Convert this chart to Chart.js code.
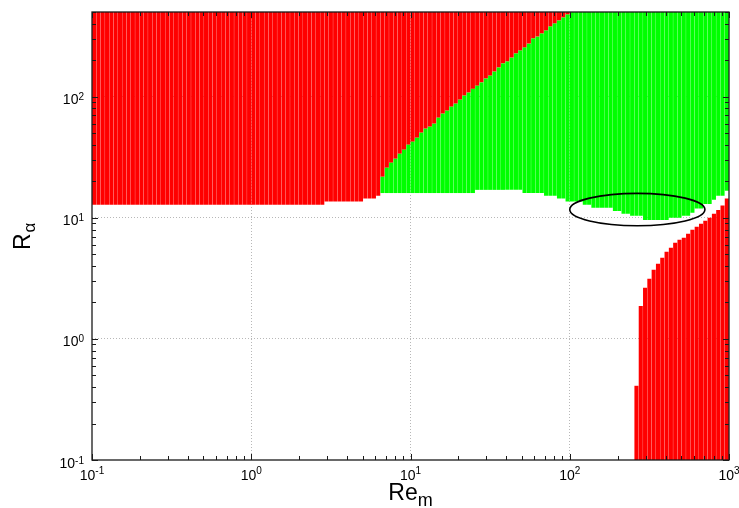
<!DOCTYPE html>
<html>
<head>
<meta charset="utf-8">
<script src="https://cdn.jsdelivr.net/npm/chart.js@4.4.1/dist/chart.umd.min.js"></script>
<style>
  html, body { margin: 0; padding: 0; background: #fff; }
  canvas { display: block; }
</style>
</head>
<body>
<canvas id="stability" width="739" height="508"></canvas>
<script>
// Re_m at the centre of each computed column (37 columns per decade)
const reM = [
  0.1032,0.1098,0.1168,0.1243,0.1323,0.1408,0.1499,0.1595,0.1697,0.1806,0.1922,0.2046,0.2177,0.2317,0.2466,0.2624,0.2792,0.2972,0.3162,
  0.3365,0.3581,0.3811,0.4056,0.4316,0.4594,0.4889,0.5202,0.5536,0.5892,0.6270,0.6673,0.7101,0.7557,0.8042,0.8558,0.9108,0.9694,
  1.032,1.098,1.168,1.243,1.323,1.408,1.499,1.595,1.697,1.806,1.922,2.046,2.177,2.317,2.466,2.624,2.792,2.972,3.162,
  3.365,3.581,3.811,4.056,4.316,4.594,4.889,5.202,5.536,5.892,6.270,6.673,7.101,7.557,8.042,8.558,9.108,9.694,
  10.32,10.98,11.68,12.43,13.23,14.08,14.99,15.95,16.97,18.06,19.22,20.46,21.77,23.17,24.66,26.24,27.92,29.72,31.62,
  33.65,35.81,38.11,40.56,43.16,45.94,48.89,52.02,55.36,58.92,62.70,66.73,71.01,75.57,80.42,85.58,91.08,96.94,
  103.2,109.8,116.8,124.3,132.3,140.8,149.9,159.5,169.7,180.6,192.2,204.6,217.7,231.7,246.6,262.4,279.2,297.2,316.2,
  336.5,358.1,381.1,405.6,431.6,459.4,488.9,520.2,553.6,589.2,627.0,667.3,710.1,755.7,804.2,855.8,910.8,969.4
];

// lower edge of the upper (red / green) region, R_alpha
const whiteEdge = [
  12.8,12.8,12.8,12.8,12.8,12.8,12.8,12.8,12.8,12.8,12.8,12.8,12.8,12.8,12.8,12.8,12.8,12.8,12.8,
  12.8,12.8,12.8,12.8,12.8,12.8,12.8,12.8,12.8,12.8,12.8,12.8,12.8,12.8,12.8,12.8,12.8,12.8,
  12.8,12.8,12.8,12.8,12.8,12.8,12.8,12.8,12.8,12.8,12.8,12.8,12.8,12.8,12.8,12.8,12.8,
  13.6,13.6,13.6,13.6,13.6,13.6,13.6,13.6,13.6,14.4,14.4,14.4,15.2,16.0,16.0,16.0,16.0,16.0,16.0,16.0,
  16.0,16.0,16.0,16.0,16.0,16.0,16.0,16.0,16.0,16.0,16.0,16.0,16.0,16.0,16.0,
  17.0,17.0,17.0,17.0,17.0,17.0,17.0,17.0,17.0,17.0,17.0,16.0,16.0,16.0,16.0,16.0,15.2,15.2,15.2,14.4,14.4,13.6,
  13.6,13.6,13.6,12.8,12.8,12.1,12.1,12.1,12.1,12.1,11.4,11.4,10.8,10.8,10.4,10.4,10.4,
  9.6,9.6,9.6,9.6,9.6,9.6,10.0,10.0,10.0,10.4,10.4,11.0,11.9,11.9,13.0,13.0,14.1,15.2,15.2,16.7
];

// red / green boundary (null: no green, 500: green reaches the top)
const greenEdge = [
  null,null,null,null,null,null,null,null,null,null,null,null,null,null,null,null,null,null,null,
  null,null,null,null,null,null,null,null,null,null,null,null,null,null,null,null,null,null,
  null,null,null,null,null,null,null,null,null,null,null,null,null,null,null,
  null,null,null,null,null,null,null,null,null,null,null,null,null,null,null,
  21.8,25.9,28.5,30.7,33.8,36.5,40.1,
  42.5,45.8,50.4,54.4,56.5,59.8,67.0,72.4,76.6,82.6,87.5,94.4,102,108,116,123,131,141,149,
  161,174,188,195,210,227,240,254,274,302,313,332,351,379,401,425,450,476,
  500,500,500,500,500,500,500,500,500,500,500,500,500,500,500,500,500,500,500,
  500,500,500,500,500,500,500,500,500,500,500,500,500,500,500,500,500,500
];

// top of the lower-right red region
const lowerRed = [
  null,null,null,null,null,null,null,null,null,null,null,null,null,null,null,null,null,null,null,
  null,null,null,null,null,null,null,null,null,null,null,null,null,null,null,null,null,null,
  null,null,null,null,null,null,null,null,null,null,null,null,null,null,null,null,null,null,null,
  null,null,null,null,null,null,null,null,null,null,null,null,null,null,null,null,null,null,
  null,null,null,null,null,null,null,null,null,null,null,null,null,null,null,null,null,null,null,
  null,null,null,null,null,null,null,null,null,null,null,null,null,null,null,null,null,null,
  null,null,null,null,null,null,null,null,null,null,null,null,null,null,null,
  0.41,1.87,2.64,3.13,3.72,4.17,4.67,5.24,5.65,6.21,6.58,6.84,7.38,7.96,8.44,8.92,9.45,10.0,10.8,11.6,12.6,14.4
];

const xRange = [0.1, 1000];
const yRange = [0.1, 500];
const xTicks = [0.1, 1, 10, 100, 1000];
const xTickLabels = ['10^-1', '10^0', '10^1', '10^2', '10^3'];
const yTicks = [0.1, 1, 10, 100];
const yTickLabels = ['10^-1', '10^0', '10^1', '10^2'];
const ellipseX = [100, 706];
const ellipseY = [8.6, 15.9];

const FONT = "'Liberation Sans', Arial, Helvetica, sans-serif";

const upperRed = whiteEdge.map((w, i) => {
  const g = greenEdge[i];
  if (g === null) return [w, yRange[1]];
  if (g >= yRange[1]) return null;
  return [g, yRange[1]];
});
const green = greenEdge.map((g, i) => g === null ? null : [whiteEdge[i], g]);
const bottomRed = lowerRed.map(v => v === null ? null : [yRange[0], v]);

function minorValues(majors, max) {
  const out = [];
  for (let k = 0; k < majors.length; k++) {
    for (let m = 2; m <= 9; m++) {
      const v = m * majors[k];
      if (v <= max) out.push(v);
    }
  }
  return out;
}

function drawPower(ctx, label, x, yBase, yExp, align) {
  const [base, exp] = label.split('^');
  ctx.font = '14px ' + FONT;
  const wb = ctx.measureText(base).width;
  ctx.font = '10px ' + FONT;
  const we = ctx.measureText(exp).width;
  const start = align === 'center' ? x - (wb + we) / 2 : x - (wb + we);
  ctx.textAlign = 'left';
  ctx.textBaseline = 'alphabetic';
  ctx.font = '14px ' + FONT;
  ctx.fillText(base, start, yBase);
  ctx.font = '10px ' + FONT;
  ctx.fillText(exp, start + wb, yExp);
}

const decorations = {
  id: 'decorations',
  afterDatasetsDraw(chart) {
    const { ctx, chartArea: a, scales } = chart;
    const xs = scales.xLog, ys = scales.y;
    ctx.save();

    // highlighted region
    const ex0 = xs.getPixelForValue(ellipseX[0]), ex1 = xs.getPixelForValue(ellipseX[1]);
    const ey0 = ys.getPixelForValue(ellipseY[0]), ey1 = ys.getPixelForValue(ellipseY[1]);
    ctx.beginPath();
    ctx.ellipse((ex0 + ex1) / 2, (ey0 + ey1) / 2, Math.abs(ex1 - ex0) / 2, Math.abs(ey1 - ey0) / 2, 0, 0, Math.PI * 2);
    ctx.lineWidth = 1.6;
    ctx.strokeStyle = '#000';
    ctx.stroke();

    // frame
    ctx.lineWidth = 1.3;
    ctx.strokeStyle = '#1a1a1a';
    ctx.strokeRect(a.left, a.top, a.right - a.left, a.bottom - a.top);

    // inward ticks on all four sides
    ctx.lineWidth = 1;
    ctx.beginPath();
    const xTick = (v, len) => {
      const p = Math.round(xs.getPixelForValue(v)) + 0.5;
      ctx.moveTo(p, a.bottom); ctx.lineTo(p, a.bottom - len);
      ctx.moveTo(p, a.top); ctx.lineTo(p, a.top + len);
    };
    const yTick = (v, len) => {
      const p = Math.round(ys.getPixelForValue(v)) + 0.5;
      ctx.moveTo(a.left, p); ctx.lineTo(a.left + len, p);
      ctx.moveTo(a.right, p); ctx.lineTo(a.right - len, p);
    };
    xTicks.forEach(v => xTick(v, 6));
    minorValues(xTicks.slice(0, -1), xRange[1]).forEach(v => xTick(v, 4));
    yTicks.forEach(v => yTick(v, 6));
    minorValues(yTicks, yRange[1]).forEach(v => yTick(v, 4));
    ctx.stroke();

    // tick labels
    ctx.fillStyle = '#000';
    xTicks.forEach((v, i) => {
      drawPower(ctx, xTickLabels[i], xs.getPixelForValue(v), a.bottom + 20, a.bottom + 14, 'center');
    });
    yTicks.forEach((v, i) => {
      const p = ys.getPixelForValue(v);
      drawPower(ctx, yTickLabels[i], a.left - 8, p + 7.5, p + 3.5, 'right');
    });

    // axis titles
    ctx.textAlign = 'left';
    ctx.textBaseline = 'alphabetic';
    ctx.font = '23px ' + FONT;
    const wRe = ctx.measureText('Re').width;
    ctx.font = '18px ' + FONT;
    const wm = ctx.measureText('m').width;
    const cx = (a.left + a.right) / 2;
    const sx = cx - (wRe + wm) / 2;
    ctx.font = '23px ' + FONT;
    ctx.fillText('Re', sx, 500);
    ctx.font = '18px ' + FONT;
    ctx.fillText('m', sx + wRe, 506);

    ctx.save();
    ctx.translate(30, 250);
    ctx.rotate(-Math.PI / 2);
    ctx.font = '23px ' + FONT;
    const wR = ctx.measureText('R').width;
    ctx.fillText('R', 0, 0);
    ctx.font = '17px ' + FONT;
    ctx.fillText('α', wR + 1, 5);
    ctx.restore();

    ctx.restore();
  }
};

const barCommon = {
  xAxisID: 'x',
  yAxisID: 'y',
  grouped: false,
  borderWidth: 0,
  barPercentage: 0.95,
  categoryPercentage: 1.0
};

new Chart(document.getElementById('stability'), {
  type: 'bar',
  data: {
    labels: reM,
    datasets: [
      Object.assign({ label: 'green', data: green, backgroundColor: '#00ff00' }, barCommon),
      Object.assign({ label: 'red (upper)', data: upperRed, backgroundColor: '#ff0000' }, barCommon),
      Object.assign({ label: 'red (lower)', data: bottomRed, backgroundColor: '#ff0000' }, barCommon)
    ]
  },
  options: {
    responsive: false,
    devicePixelRatio: 1,
    animation: false,
    layout: { padding: { top: 12, right: 10, left: 0, bottom: 0 } },
    plugins: {
      legend: { display: false },
      tooltip: { enabled: false }
    },
    scales: {
      x: { type: 'category', display: false, offset: true },
      xLog: {
        type: 'logarithmic',
        position: 'bottom',
        offset: false,
        min: xRange[0],
        max: xRange[1],
        afterBuildTicks: s => { s.ticks = xTicks.slice(1, -1).map(v => ({ value: v })); },
        afterFit: s => { s.height = 48; },
        ticks: { display: false },
        grid: { offset: false, color: '#b8b8b8', lineWidth: 1, drawTicks: false },
        border: { display: false, dash: [1, 2] }
      },
      y: {
        type: 'logarithmic',
        min: yRange[0],
        max: yRange[1],
        afterBuildTicks: s => { s.ticks = yTicks.slice(1).map(v => ({ value: v })); },
        afterFit: s => { s.width = 92; },
        ticks: { display: false },
        grid: { offset: false, color: '#b8b8b8', lineWidth: 1, drawTicks: false },
        border: { display: false, dash: [1, 2] }
      }
    }
  },
  plugins: [decorations]
});
</script>
</body>
</html>
